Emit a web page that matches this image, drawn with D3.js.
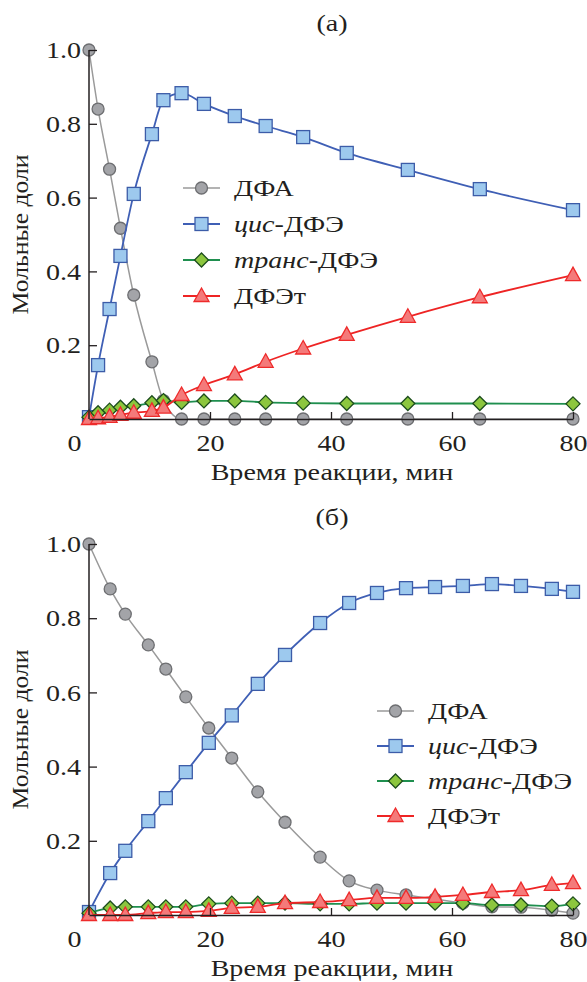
<!DOCTYPE html>
<html>
<head>
<meta charset="utf-8">
<script src="https://d3js.org/d3.v7.min.js"></script>
</head>
<body style="margin:0">
<svg width="587" height="982" font-family="Liberation Serif"></svg>
<script>
    // panel (а)
    var timesA = [0, 1.5, 3.4, 5.2, 7.4, 10.4, 12.3, 15.3, 19.0, 24.1, 29.2, 35.4, 42.6, 52.7, 64.6, 80];
    var dfaA   = [1.0, 0.84, 0.677, 0.517, 0.336, 0.155, 0.05, 0, 0, 0, 0, 0, 0, 0, 0, 0];
    var cisA   = [0.005, 0.146, 0.298, 0.442, 0.61, 0.772, 0.864, 0.883, 0.854, 0.821, 0.794, 0.764, 0.721, 0.675, 0.623, 0.566];
    var transA = [0.005, 0.017, 0.024, 0.032, 0.036, 0.044, 0.05, 0.045, 0.049, 0.049, 0.045, 0.043, 0.042, 0.042, 0.042, 0.041];
    var dfetA  = [0, 0.002, 0.006, 0.011, 0.017, 0.022, 0.031, 0.065, 0.092, 0.121, 0.155, 0.191, 0.228, 0.277, 0.330, 0.390];

    // panel (б)
    var timesB = [0, 3.5, 6.0, 9.8, 12.7, 16.0, 19.8, 23.6, 27.9, 32.4, 38.2, 43.0, 47.6, 52.4, 57.2, 61.8, 66.6, 71.4, 76.5, 80];
    var dfaB   = [1.0, 0.879, 0.811, 0.728, 0.663, 0.588, 0.504, 0.423, 0.332, 0.25, 0.156, 0.092, 0.067, 0.054, 0.043, 0.032, 0.022, 0.021, 0.013, 0.005];
    var cisB   = [0.008, 0.113, 0.173, 0.253, 0.315, 0.385, 0.464, 0.538, 0.623, 0.701, 0.787, 0.841, 0.868, 0.881, 0.884, 0.887, 0.892, 0.887, 0.879, 0.871];
    var transB = [0.005, 0.019, 0.022, 0.022, 0.022, 0.022, 0.03, 0.032, 0.032, 0.032, 0.03, 0.03, 0.032, 0.032, 0.032, 0.032, 0.027, 0.027, 0.024, 0.03];
    var dfetB  = [0, 0, 0, 0.005, 0.008, 0.008, 0.011, 0.019, 0.022, 0.032, 0.035, 0.04, 0.046, 0.046, 0.049, 0.054, 0.062, 0.067, 0.081, 0.086];

    var xTicks = [0, 20, 40, 60, 80];
    var yTicks = [0.2, 0.4, 0.6, 0.8, 1.0];
    var names = [["", "ДФА"], ["цис", "-ДФЭ"], ["транс", "-ДФЭ"], ["", "ДФЭт"]];

    var styles = [
        {shape: "circle",   fill: "#a3a4a8", stroke: "#6d6e71", line: "#9a9a9a", lw: 1.5},
        {shape: "square",   fill: "#9dc9ee", stroke: "#3c5ca8", line: "#3f5fb5", lw: 1.8},
        {shape: "diamond",  fill: "#8cc63e", stroke: "#1c4d1c", line: "#1f8f4f", lw: 1.8},
        {shape: "triangle", fill: "#f47a7a", stroke: "#ee2b2b", line: "#ee2424", lw: 1.8}
    ];

    var svg = d3.select("svg");

    function marker(sel, st) {
        if (st.shape == "circle") {
            sel.append("circle").attr("r", 6);
        } else if (st.shape == "square") {
            sel.append("rect").attr("x", -6.5).attr("y", -6.5).attr("width", 13).attr("height", 13);
        } else if (st.shape == "diamond") {
            sel.append("path").attr("d", "M0,-7L7,0L0,7L-7,0Z");
        } else {
            sel.append("path").attr("d", "M0,-8L7.5,5.5L-7.5,5.5Z");
        }
        sel.selectAll("*").attr("fill", st.fill).attr("stroke", st.stroke).attr("stroke-width", 1.3);
    }

    function drawPanel(top, bottom, title, times, series, leg) {
        var x = d3.scaleLinear().domain([0, 80]).range([89, 573]);
        var y = d3.scaleLinear().domain([0, 1]).range([bottom, top]);
        var g = svg.append("g");

        var line = d3.line().curve(d3.curveMonotoneX)
            .x(function(d){ return x(d[0]); })
            .y(function(d){ return y(d[1]); });

        series.forEach(function(vals, i){
            var st = styles[i];
            var pts = times.map(function(t, j){ return [t, vals[j]]; });
            var sg = g.append("g");
            sg.append("path").datum(pts).attr("d", line)
                .attr("fill", "none").attr("stroke", st.line).attr("stroke-width", st.lw);
            pts.forEach(function(p){
                var m = sg.append("g").attr("transform", "translate(" + x(p[0]) + "," + y(p[1]) + ")");
                marker(m, st);
            });
        });

        var xa = g.append("g").attr("transform", "translate(0," + bottom + ")")
            .call(d3.axisBottom(x).tickValues(xTicks).tickSize(-7).tickSizeOuter(0).tickPadding(15));
        xa.selectAll("text").filter(function(d){ return d == 0; }).attr("x", -15);
        xa.selectAll("line").filter(function(d){ return d == 0; }).remove();

        var ya = g.append("g").attr("transform", "translate(89,0)")
            .call(d3.axisLeft(y).tickValues(yTicks).tickSize(-8).tickSizeOuter(0).tickPadding(8)
                .tickFormat(d3.format(".1f")));
        ya.select(".domain").attr("d", "M0," + y(1) + "V" + bottom);

        [xa, ya].forEach(function(a){
            a.attr("font-family", "Liberation Serif").attr("font-size", null);
            a.selectAll("line").attr("stroke", "#231f20").attr("stroke-width", 1.3);
            a.select(".domain").attr("stroke", "#231f20").attr("stroke-width", 1.5);
        });

        g.append("text").attr("x", 332).attr("y", bottom + 61).attr("text-anchor", "middle")
            .text("Время реакции, мин");
        g.append("text").attr("class", "ylab")
            .attr("transform", "translate(28," + ((top + bottom) / 2) + ") rotate(-90)")
            .attr("text-anchor", "middle").text("Мольные доли");
        g.append("text").attr("x", 332).attr("y", top - 19).attr("text-anchor", "middle")
            .text(title);

        // legend
        names.forEach(function(n, i){
            var st = styles[i];
            var ly = leg[1] + i * leg[2];
            var lg = g.append("g").attr("transform", "translate(" + leg[0] + "," + ly + ")");
            lg.append("line").attr("x1", 0).attr("x2", 37).attr("stroke", st.line).attr("stroke-width", st.lw);
            var m = lg.append("g").attr("transform", "translate(18.5,0)");
            marker(m, st);
            var t = lg.append("text").attr("x", 51).attr("y", 8);
            if (n[0]) t.append("tspan").attr("font-style", "italic").text(n[0]);
            t.append("tspan").text(n[1]);
        });
    }

    drawPanel(50, 419, "(а)", timesA, [dfaA, cisA, transA, dfetA], [183, 188, 36]);
    drawPanel(544, 915, "(б)", timesB, [dfaB, cisB, transB, dfetB], [377, 711, 35]);

    // the original typeface is a little wider than Liberation Serif
    svg.selectAll("text").each(function(){
        var t = d3.select(this);
        var tx = +t.attr("x") || 0, ty = +t.attr("y") || 0;
        var k = t.classed("ylab") ? 1.07 : 1.17;
        var tr = t.attr("transform") || "";
        t.attr("x", null).attr("y", null)
            .attr("transform", tr + " translate(" + tx + "," + ty + ") scale(" + k + ",1)");
    })
    .attr("font-family", "Liberation Serif")
    .attr("font-size", 24)
    .attr("fill", "#231f20");
</script>
</body>
</html>
